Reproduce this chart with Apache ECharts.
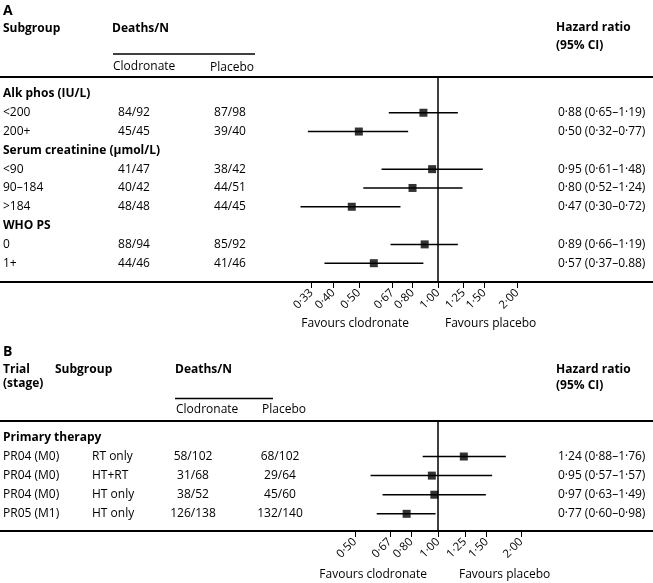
<!DOCTYPE html>
<html>
<head>
<meta charset="utf-8">
<script src="https://cdn.jsdelivr.net/npm/echarts@6/dist/echarts.min.js"></script>
<style>
html,body{margin:0;padding:0;background:#fff;}
#chart{width:653px;height:583px;}
</style>
</head>
<body>
<div id="chart"></div>
<script>
// ---------- Panel A data ----------
const aSubgroups = ['Alk phos (IU/L)', '<200', '200+', 'Serum creatinine (µmol/L)', '<90', '90–184', '>184', 'WHO PS', '0', '1+'];
const aIsHeader = [true, false, false, true, false, false, false, true, false, false];
const aClodronate = ['', '84/92', '45/45', '', '41/47', '40/42', '48/48', '', '88/94', '44/46'];
const aPlacebo = ['', '87/98', '39/40', '', '38/42', '44/51', '44/45', '', '85/92', '41/46'];
const aHR = [null, 0.88, 0.50, null, 0.95, 0.80, 0.47, null, 0.89, 0.57];
const aLo = [null, 0.65, 0.32, null, 0.61, 0.52, 0.30, null, 0.66, 0.37];
const aHi = [null, 1.19, 0.77, null, 1.48, 1.24, 0.72, null, 1.19, 0.88];
const aHRText = ['', '0·88 (0·65–1·19)', '0·50 (0·32–0·77)', '', '0·95 (0·61–1·48)', '0·80 (0·52–1·24)', '0·47 (0·30–0·72)', '', '0·89 (0·66–1·19)', '0·57 (0·37–0.88)'];
const aTicks = [0.33, 0.40, 0.50, 0.67, 0.80, 1.00, 1.25, 1.50, 2.00];

// ---------- Panel B data ----------
const bTrials = ['Primary therapy', 'PR04 (M0)', 'PR04 (M0)', 'PR04 (M0)', 'PR05 (M1)'];
const bIsHeader = [true, false, false, false, false];
const bSubgroups = ['', 'RT only', 'HT+RT', 'HT only', 'HT only'];
const bClodronate = ['', '58/102', '31/68', '38/52', '126/138'];
const bPlacebo = ['', '68/102', '29/64', '45/60', '132/140'];
const bHR = [null, 1.24, 0.95, 0.97, 0.77];
const bLo = [null, 0.88, 0.57, 0.63, 0.60];
const bHi = [null, 1.76, 1.57, 1.49, 0.98];
const bHRText = ['', '1·24 (0·88–1·76)', '0·95 (0·57–1·57)', '0·97 (0·63–1·49)', '0·77 (0·60–0·98)'];
const bTicks = [0.50, 0.67, 0.80, 1.00, 1.25, 1.50, 2.00];

// ---------- layout ----------
const FONT = '"Open Sans", sans-serif';
const W = 653;
const ONE_X = 438;          // pixel of HR = 1
const A_PX = 114.2, B_PX = 120; // px per ln unit
const A = {top: 77, height: 205, ymin: -0.9, ymax: 10.0};
const B = {top: 421, height: 110, ymin: -0.86, ymax: 4.9};

const fmtTick = v => Math.exp(v).toFixed(2).replace('.', '·');

function idxArr(n){ const r=[]; for(let i=0;i<n;i++) r.push(i); return r; }

function colAxis(g, n, ext, arr, hdr, offset, align){
  return {
    type: 'value', gridIndex: g, position: 'left', offset: -offset,
    min: ext.ymin, max: ext.ymax, inverse: true,
    axisLine: {show: false, onZero: false}, axisTick: {show: false}, splitLine: {show: false},
    axisLabel: {
      show: true, margin: 0, align: align, customValues: idxArr(n),
      fontFamily: FONT, fontSize: 12, color: '#000',
      formatter: v => { const i = Math.round(v); const t = arr[i] || ''; return (hdr && hdr[i]) ? '{b|' + t + '}' : t; },
      rich: {b: {fontWeight: 'bold', fontFamily: FONT, fontSize: 12, color: '#000'}}
    }
  };
}

function xAxes(g, px, ticks){
  const min = -ONE_X / px, max = (W - ONE_X) / px;
  const tv = ticks.map(t => Math.log(t));
  return [
    {
      type: 'value', gridIndex: g, position: 'bottom', min, max,
      axisLine: {show: true, onZero: false, lineStyle: {color: '#000', width: 2}},
      axisTick: {show: true, customValues: tv, length: 6, lineStyle: {color: '#000', width: 1}},
      axisLabel: {show: true, customValues: tv, rotate: 45, margin: 9, fontFamily: FONT, fontSize: 11.5, color: '#000', formatter: fmtTick},
      splitLine: {show: false}
    },
    {
      type: 'value', gridIndex: g, position: 'top', min, max,
      axisLine: {show: true, onZero: false, lineStyle: {color: '#000', width: 2}},
      axisTick: {show: false}, axisLabel: {show: false}, splitLine: {show: false}
    }
  ];
}

function ciSeries(xi, yi, lo, hi){
  const data = [];
  lo.forEach((l, i) => { if (l != null) data.push([Math.log(l), Math.log(hi[i]), i]); });
  return {
    type: 'custom', xAxisIndex: xi, yAxisIndex: yi, data, silent: true, z: 3,
    encode: {x: [0, 1], y: 2},
    renderItem: (params, api) => {
      const p1 = api.coord([api.value(0), api.value(2)]);
      const p2 = api.coord([api.value(1), api.value(2)]);
      return {type: 'line', shape: {x1: p1[0], y1: p1[1], x2: p2[0], y2: p2[1]}, style: {stroke: '#000', lineWidth: 1.5}};
    }
  };
}
function ptSeries(xi, yi, hr){
  const data = [];
  hr.forEach((h, i) => { if (h != null) data.push([Math.log(h), i]); });
  return {
    type: 'scatter', xAxisIndex: xi, yAxisIndex: yi, data, symbol: 'rect', symbolSize: 8,
    itemStyle: {color: '#000'}, silent: true, z: 5,
    markLine: {silent: true, symbol: 'none', label: {show: false}, lineStyle: {color: '#000', width: 1.5, type: 'solid'}, data: [{xAxis: 0}], animation: false}
  };
}

function txt(x, y, s, opt){
  return {type: 'text', x, y, style: Object.assign({text: s, fill: '#000', font: '12px ' + FONT, textAlign: 'left', textVerticalAlign: 'middle'}, opt || {})};
}
const boldF = 'bold 12px ' + FONT;

const yAxes = [
  colAxis(0, aSubgroups.length, A, aSubgroups, aIsHeader, 3, 'left'),
  colAxis(0, aSubgroups.length, A, aClodronate, null, 134, 'center'),
  colAxis(0, aSubgroups.length, A, aPlacebo, null, 230, 'center'),
  colAxis(0, aSubgroups.length, A, aHRText, null, 558, 'left'),
  colAxis(1, bTrials.length, B, bTrials, bIsHeader, 3, 'left'),
  colAxis(1, bTrials.length, B, bSubgroups, null, 92, 'left'),
  colAxis(1, bTrials.length, B, bClodronate, null, 193, 'center'),
  colAxis(1, bTrials.length, B, bPlacebo, null, 280, 'center'),
  colAxis(1, bTrials.length, B, bHRText, null, 558, 'left')
];

const option = {
  backgroundColor: '#fff',
  animation: false,
  textStyle: {fontFamily: FONT},
  grid: [
    {left: 0, right: 0, top: A.top, height: A.height, outerBoundsMode: 'none', containLabel: false},
    {left: 0, right: 0, top: B.top, height: B.height, outerBoundsMode: 'none', containLabel: false}
  ],
  xAxis: [].concat(xAxes(0, A_PX, aTicks), xAxes(1, B_PX, bTicks)),
  yAxis: yAxes,
  series: [
    ciSeries(0, 0, aLo, aHi), ptSeries(0, 0, aHR),
    ciSeries(2, 4, bLo, bHi), ptSeries(2, 4, bHR)
  ],
  graphic: [
    txt(3, 11, 'A', {font: 'bold 14px ' + FONT}),
    txt(3, 29, 'Subgroup', {font: boldF}),
    txt(112, 29, 'Deaths/N', {font: boldF}),
    {type: 'line', shape: {x1: 113, y1: 54, x2: 255, y2: 54}, style: {stroke: '#000', lineWidth: 1.5}},
    txt(113, 67, 'Clodronate'),
    txt(210, 68, 'Placebo'),
    txt(556, 28, 'Hazard ratio', {font: boldF}),
    txt(556, 46, '(95% CI)', {font: boldF}),
    txt(409, 324, 'Favours clodronate', {textAlign: 'right'}),
    txt(445, 324, 'Favours placebo'),

    txt(3, 352, 'B', {font: 'bold 14px ' + FONT}),
    txt(3, 370, 'Trial', {font: boldF}),
    txt(3, 384, '(stage)', {font: boldF}),
    txt(55, 370, 'Subgroup', {font: boldF}),
    txt(175, 370, 'Deaths/N', {font: boldF}),
    {type: 'line', shape: {x1: 175, y1: 398.5, x2: 273, y2: 398.5}, style: {stroke: '#000', lineWidth: 1.5}},
    txt(176, 410, 'Clodronate'),
    txt(262, 410, 'Placebo'),
    txt(556, 370, 'Hazard ratio', {font: boldF}),
    txt(556, 386, '(95% CI)', {font: boldF}),
    txt(427, 575, 'Favours clodronate', {textAlign: 'right'}),
    txt(459, 575, 'Favours placebo')
  ]
};

const chart = echarts.init(document.getElementById('chart'), null, {renderer: 'canvas'});
chart.setOption(option);
</script>
</body>
</html>
